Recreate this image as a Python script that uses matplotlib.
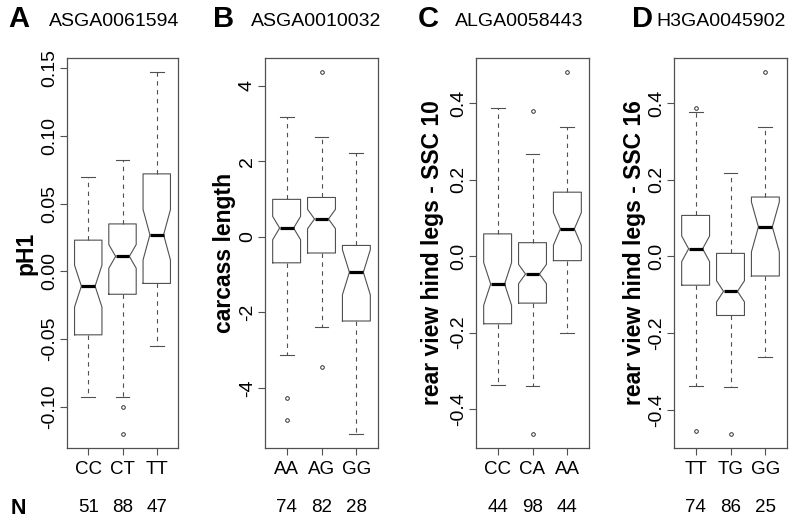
import matplotlib
matplotlib.use('Agg')
import matplotlib.pyplot as plt
import matplotlib.transforms as mtransforms
import numpy as np

plt.rcParams['font.family'] = ['Liberation Sans', 'DejaVu Sans']
plt.rcParams['axes.unicode_minus'] = False

# ---------------- data ----------------
panel_letters = ['A', 'B', 'C', 'D']
snp_names = ['ASGA0061594', 'ASGA0010032', 'ALGA0058443', 'H3GA0045902']
trait_names = ['pH1', 'carcass length',
               'rear view hind legs - SSC 10', 'rear view hind legs - SSC 16']
genotypes = [['CC', 'CT', 'TT'], ['AA', 'AG', 'GG'],
             ['CC', 'CA', 'AA'], ['TT', 'TG', 'GG']]
counts = [[51, 88, 47], [74, 82, 28], [44, 98, 44], [74, 86, 25]]

# Panel A  (pH1)
whislo_A = [-0.093, -0.093, -0.055]
q1_A = [-0.047, -0.017, -0.009]
med_A = [-0.011, 0.011, 0.027]
q3_A = [0.023, 0.035, 0.072]
whishi_A = [0.070, 0.082, 0.147]
fliers_A = [[], [-0.100, -0.120], []]

# Panel B  (carcass length)
whislo_B = [-3.13, -2.38, -5.21]
q1_B = [-0.69, -0.43, -2.23]
med_B = [0.23, 0.47, -0.94]
q3_B = [0.99, 1.04, -0.23]
whishi_B = [3.17, 2.63, 2.23]
fliers_B = [[-4.26, -4.85], [4.35, -3.46], []]

# Panel C  (rear view hind legs - SSC 10)
whislo_C = [-0.337, -0.340, -0.200]
q1_C = [-0.177, -0.123, -0.012]
med_C = [-0.073, -0.047, 0.071]
q3_C = [0.058, 0.035, 0.167]
whishi_C = [0.386, 0.267, 0.337]
fliers_C = [[], [0.378, -0.464], [0.480]]

# Panel D  (rear view hind legs - SSC 16)
whislo_D = [-0.338, -0.340, -0.262]
q1_D = [-0.075, -0.154, -0.051]
med_D = [0.020, -0.091, 0.077]
q3_D = [0.107, 0.008, 0.155]
whishi_D = [0.378, 0.217, 0.337]
fliers_D = [[0.388, -0.455], [-0.462], [0.480]]

ytick_values = [[-0.10, -0.05, 0.00, 0.05, 0.10, 0.15],
                [-4, -2, 0, 2, 4],
                [-0.4, -0.2, 0.0, 0.2, 0.4],
                [-0.4, -0.2, 0.0, 0.2, 0.4]]
ytick_formats = ['%.2f', '%d', '%.1f', '%.1f']

panels = [
    (whislo_A, q1_A, med_A, q3_A, whishi_A, fliers_A),
    (whislo_B, q1_B, med_B, q3_B, whishi_B, fliers_B),
    (whislo_C, q1_C, med_C, q3_C, whishi_C, fliers_C),
    (whislo_D, q1_D, med_D, q3_D, whishi_D, fliers_D),
]

# ---------------- layout (pixels) ----------------
W, H = 792, 521
ax_left_px = [67, 265, 476, 674]
ax_right_px = [178, 378, 589, 787]
ax_top_px, ax_bot_px = 58, 448
ylabel_x_px = [26, 225, 433, 635]
letter_x_px = [19, 224, 428, 642]
title_x_px = [114, 316, 519, 721]

edge = '#505050'
fig = plt.figure(figsize=(W / 100, H / 100), dpi=100)

for i, (wl, q1, md, q3, wh, fl) in enumerate(panels):
    l = ax_left_px[i] / W
    w = (ax_right_px[i] - ax_left_px[i]) / W
    b = 1 - ax_bot_px / H
    h = (ax_bot_px - ax_top_px) / H
    ax = fig.add_axes([l, b, w, h])

    stats = []
    for k in range(3):
        iqr = q3[k] - q1[k]
        half = 1.58 * iqr / np.sqrt(counts[i][k])
        stats.append(dict(med=md[k], q1=q1[k], q3=q3[k], whislo=wl[k],
                          whishi=wh[k], fliers=fl[k],
                          cilo=md[k] - half, cihi=md[k] + half))
    ax.bxp(stats, positions=[1, 2, 3], widths=0.8, shownotches=True,
           capwidths=0.4,
           boxprops=dict(color=edge, linewidth=0.8),
           whiskerprops=dict(color=edge, linewidth=0.8, linestyle=(0, (4, 4))),
           capprops=dict(color=edge, linewidth=0.8),
           medianprops=dict(color='black', linewidth=2.3, solid_capstyle='butt'),
           flierprops=dict(marker='o', markersize=2.6, markerfacecolor='none',
                           markeredgecolor='#303030', markeredgewidth=0.7))

    # R-style axis extension (4 %)
    allv = wl + wh + [v for f in fl for v in f]
    lo, hi = min(allv), max(allv)
    pad = 0.04 * (hi - lo)
    ax.set_ylim(lo - pad, hi + pad)
    ax.set_xlim(0.38, 3.62)

    for s in ax.spines.values():
        s.set_color(edge)
        s.set_linewidth(0.9)

    ax.set_xticks([1, 2, 3])
    ax.set_xticklabels(genotypes[i], fontsize=13.5)
    ax.set_yticks(ytick_values[i])
    ax.set_yticklabels([ytick_formats[i] % v for v in ytick_values[i]],
                       fontsize=14, rotation=90, va='center')
    ax.tick_params(axis='both', length=5, width=0.8, color=edge)
    ax.tick_params(axis='x', pad=4.5)
    ax.tick_params(axis='y', pad=1.5)

    ax.set_ylabel(trait_names[i], fontsize=16.5, fontweight='bold',
                  va='center', ha='center')
    ax.yaxis.set_label_coords((ylabel_x_px[i] - ax_left_px[i]) /
                              (ax_right_px[i] - ax_left_px[i]), 0.5)

    trans = mtransforms.blended_transform_factory(ax.transData, fig.transFigure)
    for k in range(3):
        ax.text(k + 1, 1 - 508 / H, str(counts[i][k]), transform=trans,
                ha='center', va='center', fontsize=13.5)

    fig.text(letter_x_px[i] / W, 1 - 19 / H, panel_letters[i],
             fontsize=21, fontweight='bold', ha='center', va='center')
    fig.text(title_x_px[i] / W, 1 - 22 / H, snp_names[i],
             fontsize=14, ha='center', va='center')

fig.text(18 / W, 1 - 509 / H, 'N', fontsize=15.5, fontweight='bold',
         ha='center', va='center')

fig.savefig('out.png', dpi=100)
